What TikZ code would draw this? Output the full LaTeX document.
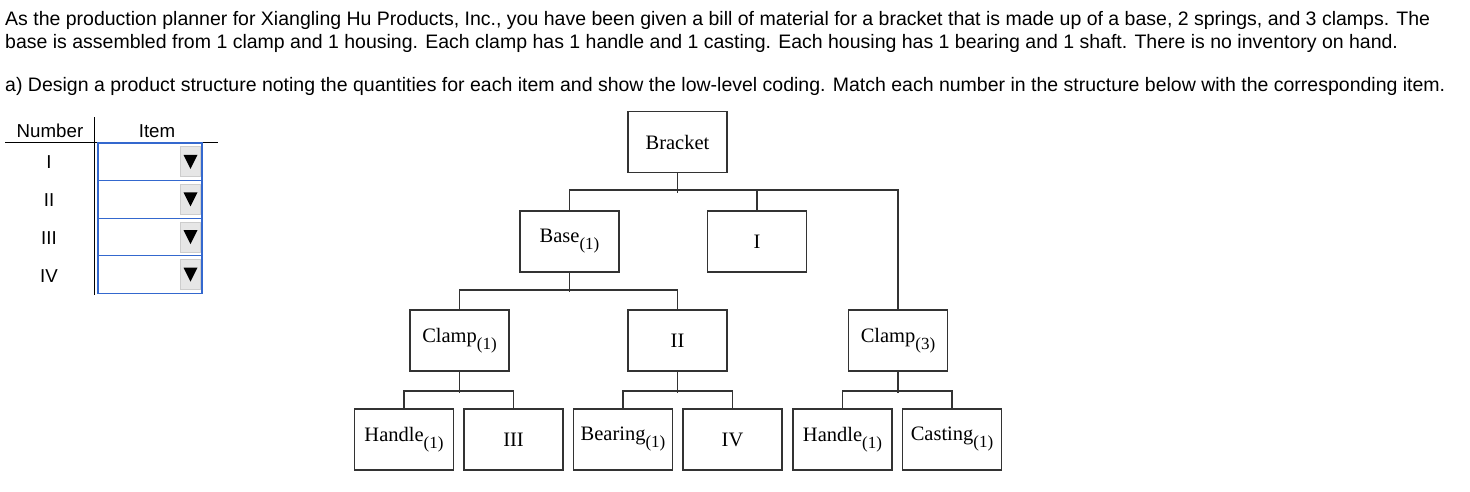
\documentclass[tikz,border=0pt]{standalone}
\usepackage{fontspec}
\setmainfont{Liberation Serif}
\newfontfamily\arialf{Liberation Sans}
\definecolor{lc}{RGB}{51,51,51}
\definecolor{ddblue}{RGB}{52,104,206}
\definecolor{btnfill}{RGB}{230,230,230}
\definecolor{btnline}{RGB}{205,205,205}
\newcommand{\subq}[1]{\raisebox{-7pt}{\fontsize{17}{20}\selectfont(#1)}}
\begin{document}
\begin{tikzpicture}[x=1pt,y=-1pt,
  box/.style={draw=lc, line width=1.6pt, minimum width=99pt, minimum height=61pt, inner sep=0pt, font=\fontsize{20.5}{24}\selectfont},
  con/.style={draw=lc, line width=1.6pt},
  txt/.style={font=\arialf\fontsize{19.5}{22}\selectfont, anchor=base west, inner sep=0pt},
  tab/.style={font=\arialf\fontsize{18.7}{22}\selectfont, anchor=base, inner sep=0pt},
  ddbox/.style={draw=ddblue, line width=1.3pt, minimum width=104pt, minimum height=37.6pt, inner sep=0pt},
  btn/.style={draw=btnline, fill=btnfill, line width=0.8pt, minimum width=20pt, minimum height=30pt, inner sep=0pt},
  rule/.style={draw=black, line width=1pt}]
\useasboundingbox (0,0) rectangle (1470,491);

% question text
\node[txt] (l1) at (5,25) {As the production planner for Xiangling Hu Products, Inc., you have been given a bill of material for a bracket that is made up of a base, 2 springs, and 3 clamps. The};
\node[txt] (l2) at (5,48) {base is assembled from 1 clamp and 1 housing. Each clamp has 1 handle and 1 casting. Each housing has 1 bearing and 1 shaft. There is no inventory on hand.};
\node[txt] (l3) at (5,91) {a) Design a product structure noting the quantities for each item and show the low-level coding. Match each number in the structure below with the corresponding item.};

% table
\node[tab] (hnum) at (50,137) {Number};
\node[tab] (hitem) at (157,137) {Item};
\draw[rule] (94.5,117) -- (94.5,295);
\draw[rule] (5,142) -- (218,142);
\foreach \n/\r/\yc/\yb in {1/I/161.8/168.3, 2/II/199.4/206, 3/III/237/244, 4/IV/274.6/282.5} {
  \node[tab] (num\n) at (49,\yb) {\r};
  \node[ddbox] (dd\n) at (150,\yc) {};
  \node[btn] (btn\n) at (190.5,\yc) {};
  \fill[black] ([xshift=-7pt,yshift=7pt]btn\n.center) -- ([xshift=7pt,yshift=7pt]btn\n.center) -- ([yshift=-7pt]btn\n.center) -- cycle;
}

% product structure
\node[box] (bracket) at (677.5,142) {Bracket};
\node[box] (base) at (569.5,241.5) {Base\subq{1}};
\node[box] (one) at (757,241.5) {I};
\node[box] (clampA) at (459.5,340.5) {Clamp\subq{1}};
\node[box] (two) at (677.5,340.5) {II};
\node[box] (clampB) at (898,340.5) {Clamp\subq{3}};
\node[box] (handleA) at (404,439.5) {Handle\subq{1}};
\node[box] (three) at (513.5,439.5) {III};
\node[box] (bearing) at (623,439.5) {Bearing\subq{1}};
\node[box] (four) at (732.5,439.5) {IV};
\node[box] (handleB) at (842.5,439.5) {Handle\subq{1}};
\node[box] (casting) at (952,439.5) {Casting\subq{1}};

% connectors
\draw[con] (bracket.south) -- ++(0,19.5);
\draw[con] (base.north) -- ++(0,-20) -| (clampB.north);
\draw[con] (one.north) -- ++(0,-20);
\draw[con] (base.south) -- ++(0,19.5);
\draw[con] (clampA.north) -- ++(0,-19.5) -| (two.north);
\draw[con] (clampA.south) -- ++(0,21);
\draw[con] (handleA.north) -- ++(0,-17) -| (three.north);
\draw[con] (two.south) -- ++(0,21);
\draw[con] (bearing.north) -- ++(0,-17) -| (four.north);
\draw[con] (clampB.south) -- ++(0,21);
\draw[con] (handleB.north) -- ++(0,-17) -| (casting.north);
\end{tikzpicture}
\end{document}
